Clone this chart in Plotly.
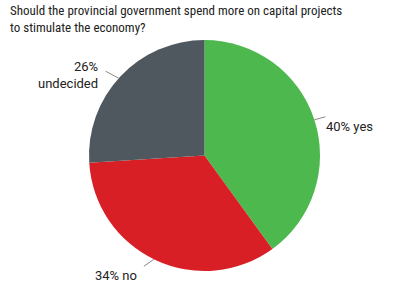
import plotly.graph_objects as go
import math

labels = ["yes", "no", "undecided"]
values = [40, 34, 26]
colors = ["#4db84e", "#d91f26", "#4f585e"]
label_text = ["40% yes", "34% no", "26%<br>undecided"]

W, H = 397, 305
cx, cy, r = 204.5, 155.5, 115.5

fig = go.Figure(go.Pie(
    labels=labels, values=values, sort=False, direction="clockwise", rotation=0,
    marker=dict(colors=colors, line=dict(width=0)), textinfo="none", hoverinfo="label+percent",
    domain=dict(x=[(cx - r) / W, (cx + r) / W], y=[1 - (cy + r) / H, 1 - (cy - r) / H]),
    showlegend=False,
))

# leader lines: edge angle (deg, clockwise from top), leader offset, text offset, anchors
leaders = {
    "yes": (72, (11, -3), (-1, 10), "left", "middle"),
    "no": (206, (-10, 7), (-5, 0), "right", "top"),
    "undecided": (312, (-13, -7), (-6, 4), "right", "middle"),
}
for lab, txt in zip(labels, label_text):
    a_deg, (dx, dy), (tx, ty), xa, ya = leaders[lab]
    a = math.radians(a_deg)
    ex = cx + r * math.sin(a)
    ey = cy - r * math.cos(a)
    fig.add_shape(type="line", x0=ex / W, y0=1 - ey / H, x1=(ex + dx) / W, y1=1 - (ey + dy) / H,
                  xref="paper", yref="paper", line=dict(color="#888", width=1))
    fig.add_annotation(x=(ex + dx + tx) / W, y=1 - (ey + dy + ty) / H,
                       xref="paper", yref="paper", text=txt, showarrow=False,
                       xanchor=xa, yanchor=ya, align="right" if xa == "right" else "left",
                       font=dict(size=13, color="#222", family="Roboto"))

fig.add_annotation(
    x=8 / W, y=1 - 1 / H, xref="paper", yref="paper", xanchor="left", yanchor="top",
    text="Should the provincial government spend more on capital projects<br>to stimulate the economy?",
    showarrow=False, align="left",
    font=dict(size=13, color="#222", family="Liberation Sans Narrow, Roboto Condensed, Roboto"),
)

fig.update_layout(
    width=W, height=H, margin=dict(l=0, r=0, t=0, b=0),
    paper_bgcolor="white", plot_bgcolor="white",
)
fig.write_html("out.html")
